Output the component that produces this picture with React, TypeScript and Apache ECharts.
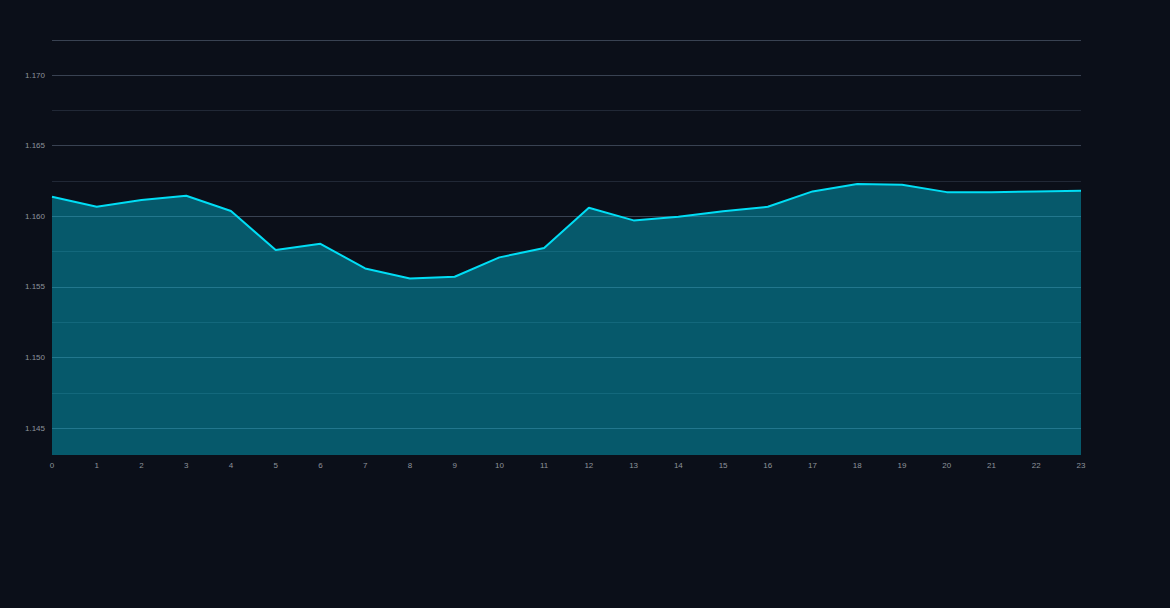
import React, { useEffect, useRef } from "react";
import * as echarts from "echarts";

const categories: string[] = Array.from({ length: 24 }, (_, i) => String(i));
const values: number[] = [
  1.16138, 1.16067, 1.16115, 1.16145, 1.16037, 1.15761, 1.15805, 1.15631,
  1.1556, 1.15572, 1.15709, 1.15775, 1.1606, 1.15971, 1.15997, 1.16035,
  1.16067, 1.16176, 1.16228, 1.16223, 1.16171, 1.16171, 1.16176, 1.16181,
];
const yMin = 1.1431;
const yMax = 1.17248;

export default function App() {
  const ref = useRef<HTMLDivElement>(null);
  useEffect(() => {
    document.body.style.margin = "0";
    const chart = echarts.init(ref.current!, null, { renderer: "svg" });
    const bright = "#394252";
    const dim = "#212836";
    const font = "Liberation Sans, Arial, sans-serif";
    chart.setOption({
      animation: false,
      backgroundColor: "#0b0f19",
      grid: { left: 52, right: 89, top: 40, bottom: 153, containLabel: false },
      xAxis: {
        type: "category",
        data: categories,
        boundaryGap: false,
        axisLine: { show: false },
        axisTick: { show: false },
        axisLabel: { color: "#8d939c", fontSize: 8, margin: 6, fontFamily: font },
        splitLine: { show: false },
      },
      yAxis: {
        type: "value",
        min: yMin,
        max: yMax,
        splitNumber: 5,
        axisLine: { show: false },
        axisTick: { show: false },
        axisLabel: {
          color: "#8d939c",
          fontSize: 8,
          margin: 7,
          fontFamily: font,
          showMinLabel: false,
          showMaxLabel: false,
          formatter: (v: number) => v.toFixed(3),
        },
        splitLine: {
          show: true,
          lineStyle: {
            width: 1,
            color: ["rgba(0,0,0,0)", bright, bright, bright, bright, bright, bright, bright, dim],
          },
        },
        minorTick: { show: false, splitNumber: 2 },
        minorSplitLine: { show: true, lineStyle: { color: dim, width: 1 } },
      },
      series: [
        {
          type: "line",
          data: values,
          symbol: "none",
          lineStyle: { color: "#00def5", width: 2 },
          itemStyle: { color: "#00def5" },
          areaStyle: { color: "rgba(0, 200, 230, 0.4)", opacity: 1 },
        },
      ],
    });
    return () => chart.dispose();
  }, []);
  return <div ref={ref} style={{ width: 1170, height: 608 }} />;
}
